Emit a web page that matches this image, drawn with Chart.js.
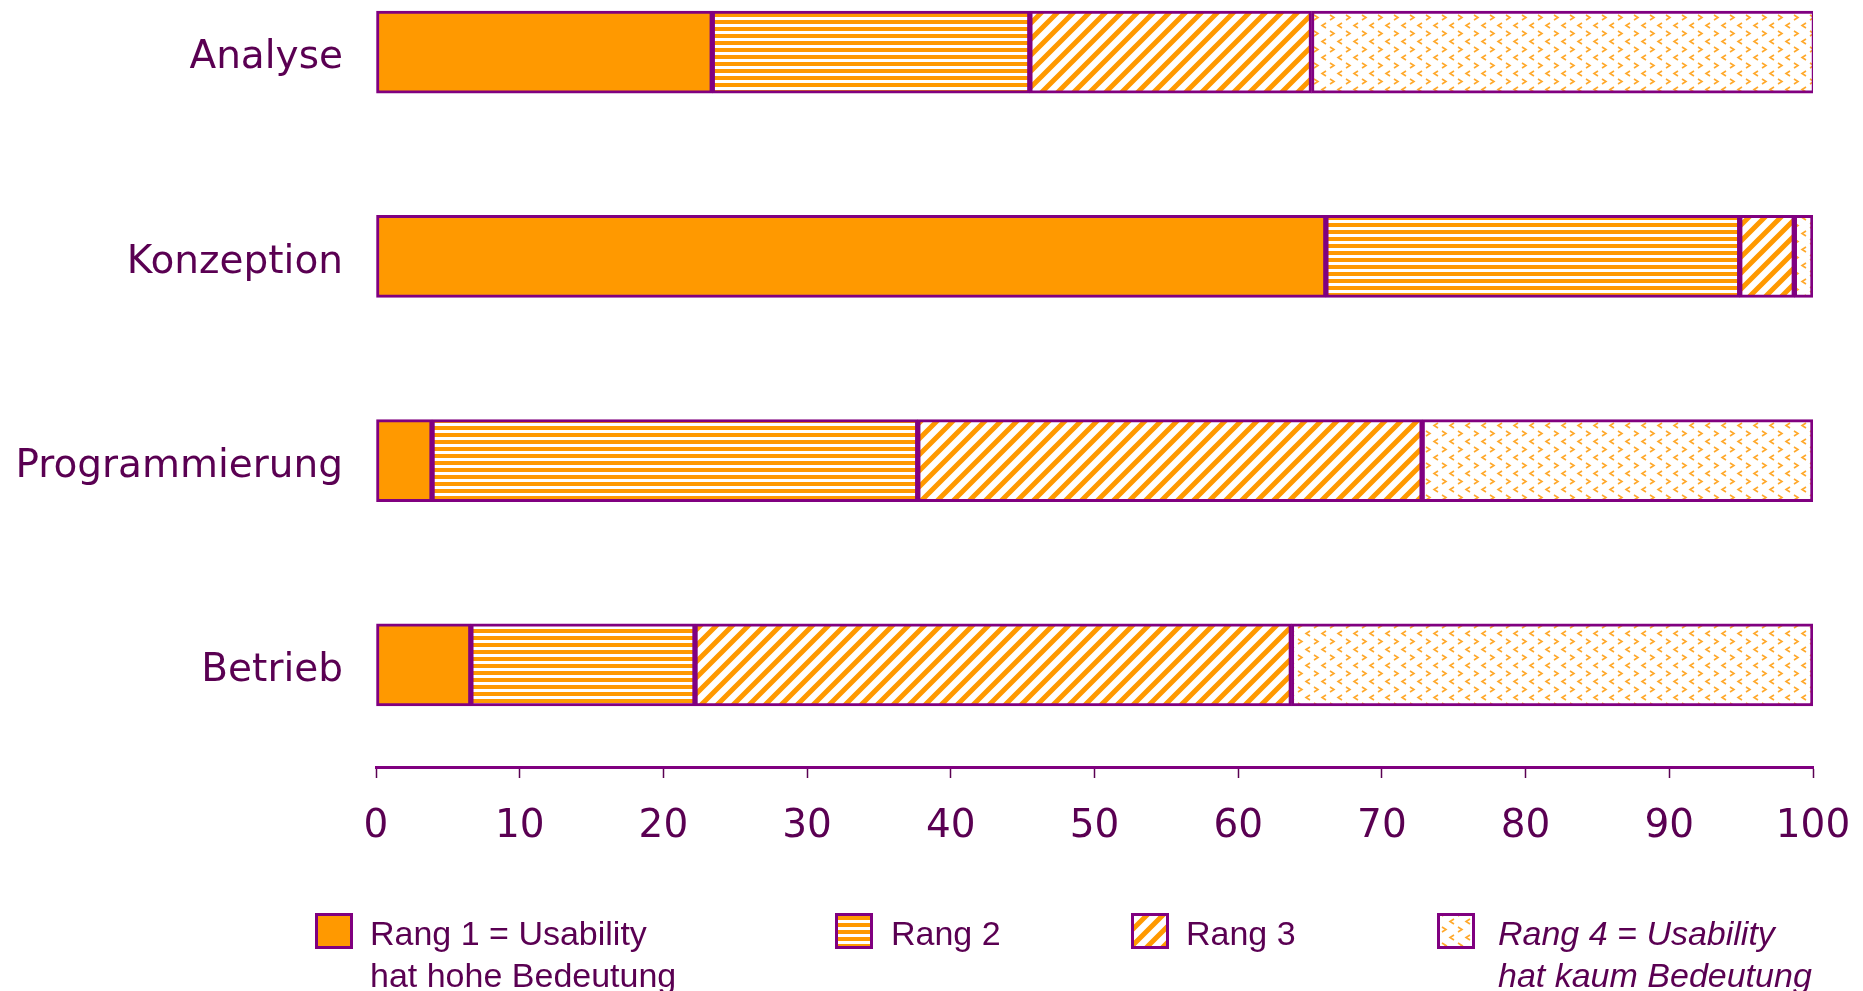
<!DOCTYPE html>
<html>
<head>
<meta charset="utf-8">
<script src="https://cdn.jsdelivr.net/npm/chart.js@4.4.0/dist/chart.umd.min.js"></script>
<style>
  html, body { margin: 0; padding: 0; background: #fff; overflow: hidden; }
  #wrap { position: relative; width: 1863px; height: 991px; overflow: hidden; }
  #chart { position: absolute; left: 0; top: -50px; }
</style>
</head>
<body>
<div id="wrap"><canvas id="chart" width="1863" height="1041"></canvas></div>
<script>
// Daten (Prozent)
const phasen = ["Analyse", "Konzeption", "Programmierung", "Betrieb"];
const rang1 = [23.4, 66.1, 3.9, 6.6];
const rang2 = [22.1, 28.8, 33.8, 15.6];
const rang3 = [19.6, 3.8, 35.1, 41.5];
const rang4 = [35.0, 1.3, 27.2, 36.3];
const xTicks = [0, 10, 20, 30, 40, 50, 60, 70, 80, 90, 100];
const legendTexte = [
  ["Rang 1 = Usability", "hat hohe Bedeutung"],
  ["Rang 2"],
  ["Rang 3"],
  ["Rang 4 = Usability", "hat kaum Bedeutung"]
];

const ORANGE = "#ff9900";
const LILA = "#800080";
const TEXT = "#5a0052";
const OFFSET = 50; // canvas ist 50px nach oben verschoben (erste Kategorie ragt oben raus)

// Muster bauen
function tile(w, h, draw) {
  const c = document.createElement("canvas");
  c.width = w; c.height = h;
  const g = c.getContext("2d");
  g.fillStyle = "#fff";
  g.fillRect(0, 0, w, h);
  draw(g);
  return document.getElementById("chart").getContext("2d").createPattern(c, "repeat");
}

const musterQuer = tile(7, 7, g => {
  g.fillStyle = ORANGE;
  g.fillRect(0, 0, 7, 4);
});

const musterSchraeg = tile(16, 16, g => {
  g.strokeStyle = ORANGE;
  g.lineWidth = 5;
  g.beginPath();
  g.moveTo(-8, 8); g.lineTo(8, -8);
  g.moveTo(0, 16); g.lineTo(16, 0);
  g.moveTo(8, 24); g.lineTo(24, 8);
  g.stroke();
});

const musterPunkte = tile(16, 16, g => {
  g.strokeStyle = "#ffa82a";
  g.lineWidth = 1.6;
  g.beginPath();
  // ">"
  g.moveTo(2, 1); g.lineTo(6, 3.5); g.lineTo(2, 6);
  // "<"
  g.moveTo(14, 9); g.lineTo(10, 11.5); g.lineTo(14, 14);
  g.stroke();
});

const fuellungen = [ORANGE, musterQuer, musterSchraeg, musterPunkte];
const reihen = [rang1, rang2, rang3, rang4];

// Legende selbst zeichnen (zweizeilige Texte)
const legendePlugin = {
  id: "legende",
  afterDraw(chart) {
    const ctx = chart.ctx;
    const boxX = [315, 835, 1131, 1437];
    const textX = [370, 891, 1186, 1498];
    const top = 913 + OFFSET;
    ctx.save();
    legendTexte.forEach((zeilen, i) => {
      ctx.fillStyle = fuellungen[i];
      ctx.fillRect(boxX[i], top, 38, 36);
      ctx.strokeStyle = LILA;
      ctx.lineWidth = 3;
      ctx.strokeRect(boxX[i] + 1.5, top + 1.5, 35, 33);
      ctx.fillStyle = TEXT;
      ctx.font = (i === 3 ? "italic " : "") + "34px 'Liberation Sans', Arial, sans-serif";
      ctx.textBaseline = "alphabetic";
      ctx.textAlign = "left";
      zeilen.forEach((z, j) => {
        ctx.fillText(z, textX[i], 945 + OFFSET + j * 42);
      });
    });
    ctx.restore();
  }
};

new Chart(document.getElementById("chart"), {
  type: "bar",
  data: {
    labels: phasen,
    datasets: reihen.map((werte, i) => ({
      label: legendTexte[i].join(" "),
      data: werte,
      backgroundColor: fuellungen[i],
      borderColor: LILA,
      borderWidth: 3,
      borderSkipped: false,
      barThickness: 82
    }))
  },
  options: {
    indexAxis: "y",
    responsive: false,
    animation: false,
    layout: { padding: { top: 0, left: 0, right: 50, bottom: 144 } },
    plugins: {
      legend: { display: false },
      tooltip: { enabled: false }
    },
    scales: {
      x: {
        stacked: true,
        min: 0,
        max: 100,
        afterBuildTicks: s => { s.ticks = xTicks.map(v => ({ value: v })); },
        afterFit: s => { s.height = 80; s.paddingLeft = 0; s.paddingRight = 0; },
        ticks: {
          color: TEXT,
          padding: 25,
          font: { family: "'DejaVu Sans', Verdana, sans-serif", size: 39 }
        },
        grid: {
          drawOnChartArea: false,
          drawTicks: true,
          tickLength: 11,
          color: TEXT,
          tickWidth: 1.5
        },
        border: { display: true, color: LILA, width: 3 }
      },
      y: {
        stacked: true,
        afterFit: s => { s.width = 376; s.paddingTop = 0; s.paddingBottom = 0; },
        ticks: {
          color: TEXT,
          padding: 33,
          labelOffset: 6,
          font: { family: "'DejaVu Sans', Verdana, sans-serif", size: 39 }
        },
        grid: { display: false, drawTicks: false },
        border: { display: false }
      }
    }
  },
  plugins: [legendePlugin]
});
</script>
</body>
</html>
